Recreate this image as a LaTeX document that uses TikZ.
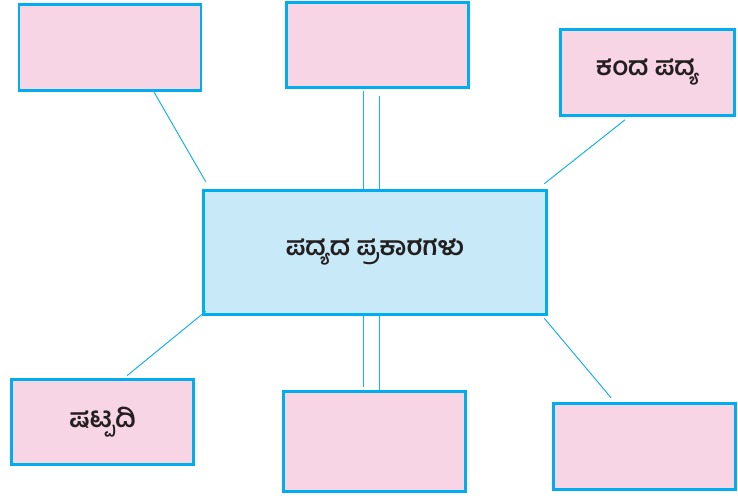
\documentclass[tikz,border=0pt]{standalone}
\usepackage{fontspec}
\newfontfamily\kanfont[Script=Kannada]{Hind Mysuru}
\definecolor{boxcyan}{HTML}{00AEEF}
\definecolor{linecyan}{HTML}{1AB2EA}
\definecolor{boxpink}{HTML}{F8D5E5}
\definecolor{boxblue}{HTML}{C8E9F8}
\definecolor{inkblack}{HTML}{231F20}
\tikzset{
  leafbox/.style={draw=boxcyan,line width=2.6pt,fill=boxpink,minimum width=182pt,minimum height=86pt,inner sep=0pt,text=inkblack,font=\kanfont\bfseries\fontsize{26}{30}\selectfont},
  hubbox/.style={draw=boxcyan,line width=2.6pt,fill=boxblue,minimum width=343pt,minimum height=124pt,inner sep=0pt,text=inkblack,font=\kanfont\bfseries\fontsize{26}{30}\selectfont},
  link/.style={draw=linecyan,line width=1pt}
}
\begin{document}
\begin{tikzpicture}[x=1pt,y=-1pt]
  \useasboundingbox[fill=white] (0,0) rectangle (738,500);
  \node[hubbox] (types) at (375,252.5) {ಪದ್ಯದ ಪ್ರಕಾರಗಳು};
  \node[leafbox] (tl) at (110,47.5) {};
  \node[leafbox,minimum height=85pt] (tm) at (377.5,45) {};
  \node[leafbox,minimum width=174pt] (kanda) at (647.5,72.5) {ಕಂದ ಪದ್ಯ};
  \node[leafbox,minimum height=85pt] (shatpadi) at (102.5,422) {ಷಟ್ಪದಿ};
  \node[leafbox,minimum height=100pt] (bm) at (374.5,441.5) {};
  \node[leafbox] (br) at (644.5,446.5) {};
  \draw[link] ([xshift=43pt,yshift=1.5pt]tl.south) -- ([xshift=3.5pt,yshift=7.5pt]types.north west);
  \draw[link] ([xshift=-12pt]types.north) -- ([xshift=-12pt,yshift=-2pt]types.north |- tm.south);
  \draw[link] ([xshift=4pt]types.north) -- ([xshift=4pt,yshift=-7pt]types.north |- tm.south);
  \draw[link] ([xshift=-22.5pt,yshift=-3pt]kanda.south) -- ([xshift=-3.5pt,yshift=5.5pt]types.north east);
  \draw[link] ([xshift=3.5pt,yshift=4.5pt]types.south west) -- ([xshift=24.5pt,yshift=2.5pt]shatpadi.north);
  \draw[link] ([xshift=-12pt]types.south) -- ([xshift=-12pt,yshift=3pt]types.south |- bm.north);
  \draw[link] ([xshift=4pt]types.south) -- ([xshift=4pt]types.south |- bm.north);
  \draw[link] ([xshift=-3.5pt,yshift=-2.5pt]types.south east) -- ([xshift=-33.5pt,yshift=4.5pt]br.north);
\end{tikzpicture}
\end{document}
